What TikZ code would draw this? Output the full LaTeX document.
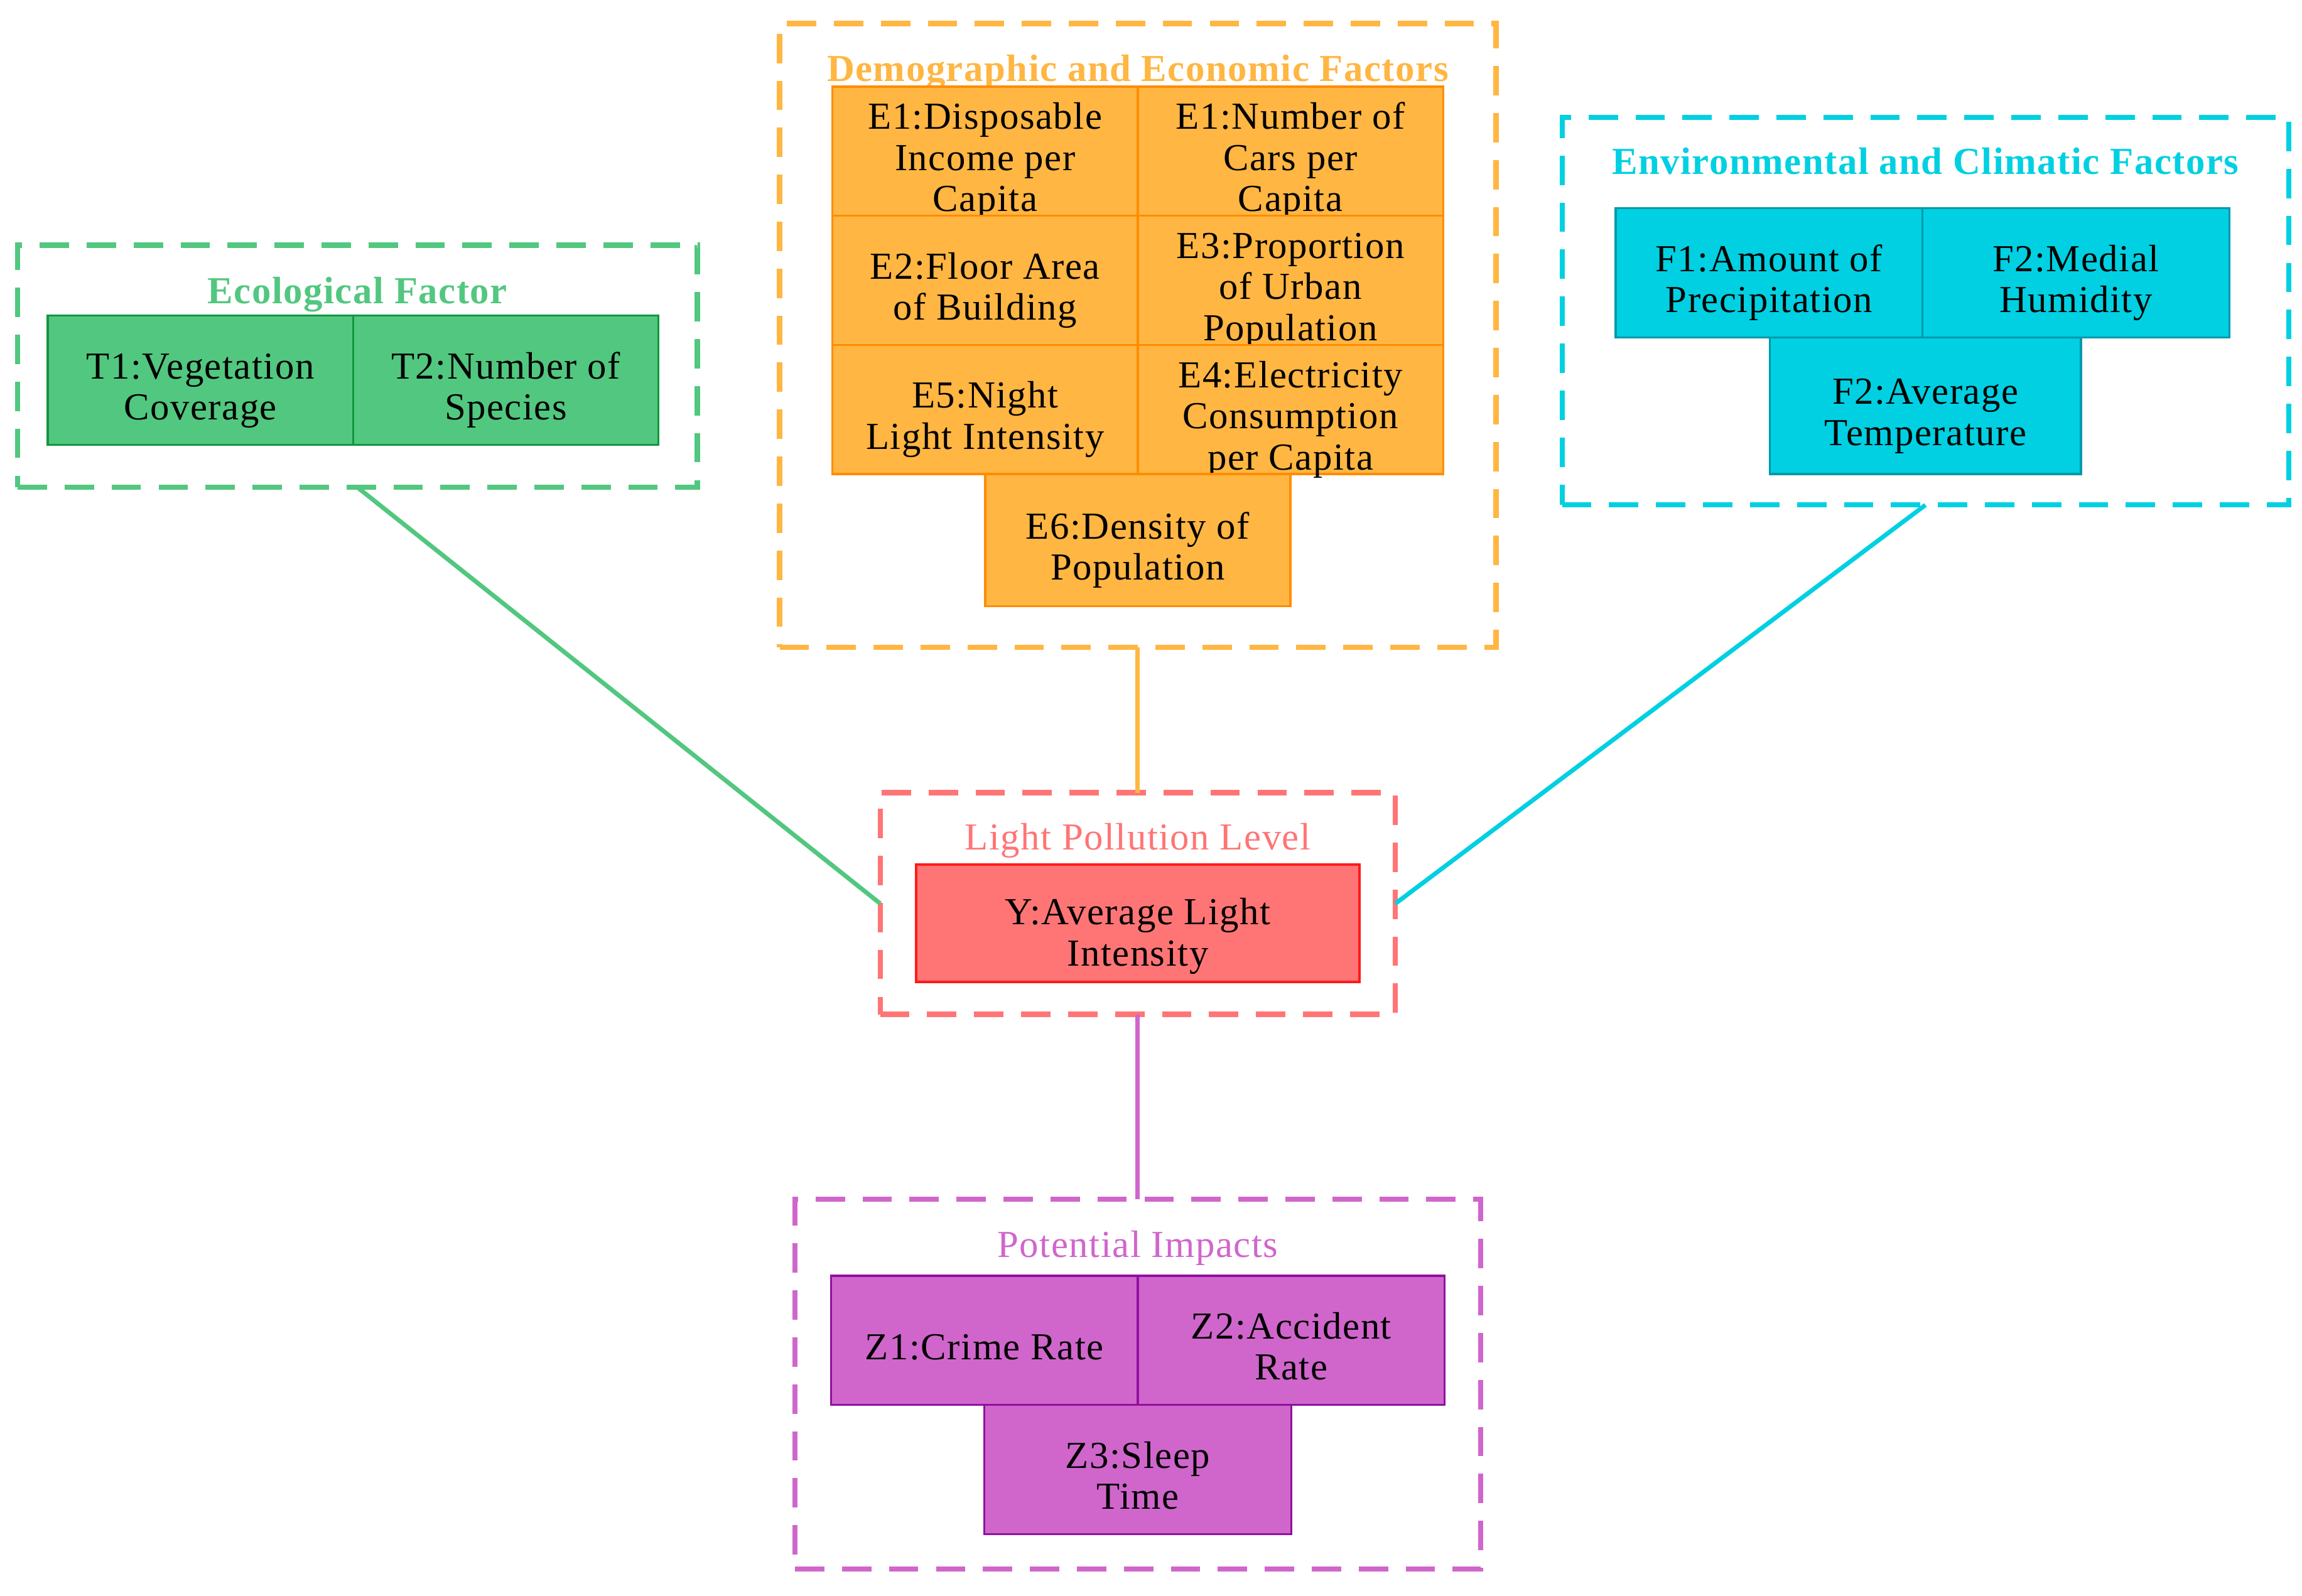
\documentclass[tikz,border=0pt]{standalone}
\usepackage{fontspec}
\setmainfont{Liberation Serif}[LetterSpace=2.5]
\definecolor{ecoC}{HTML}{52C77F}
\definecolor{ecoB}{HTML}{12963F}
\definecolor{demoC}{HTML}{FFB642}
\definecolor{demoB}{HTML}{FF8C00}
\definecolor{envC}{HTML}{00D0E2}
\definecolor{envB}{HTML}{0099AA}
\definecolor{lpC}{HTML}{FF7575}
\definecolor{lpB}{HTML}{FF1A1A}
\definecolor{impC}{HTML}{D066CC}
\definecolor{impB}{HTML}{9010A0}
\newcommand{\cellstrut}{\rule{0pt}{26pt}}
\newcommand{\ystrut}{\rule{0pt}{30pt}}
\begin{document}
\begin{tikzpicture}[x=1pt,y=-1pt,
  cluster/.style={draw, line width=3.5pt, dash pattern=on 20pt off 12pt, inner sep=0pt, outer sep=0pt},
  cell/.style={draw, line width=1.5pt, inner sep=0pt, outer sep=0pt, align=center, font=\fontsize{26}{28}\selectfont, text=black, text depth=0pt, minimum height=88pt, minimum width=208pt},
  ctitle/.style={anchor=base, inner sep=0pt, font=\fontsize{26}{28}\selectfont},
  link/.style={line width=3pt}]
\useasboundingbox (0,0) rectangle (1568,1087);

% clusters
\node[cluster, draw=ecoC, minimum width=463pt, minimum height=165pt] (eco) at (243.5,249.5) {};
\node[cluster, draw=demoC, minimum width=488pt, minimum height=425pt] (demo) at (775,228.5) {};
\node[cluster, draw=envC, minimum width=495pt, minimum height=264pt] (env) at (1311.5,212) {};
\node[cluster, draw=lpC, minimum width=351pt, minimum height=151pt] (lp) at (775,615.5) {};
\node[cluster, draw=impC, minimum width=467pt, minimum height=252pt] (imp) at (775,943) {};

% titles
\node[ctitle, text=ecoC] (ecoT) at (243.5,206.6) {\bfseries Ecological Factor};
\node[ctitle, text=demoC] (demoT) at (775,55.3) {\bfseries Demographic and Economic Factors};
\node[ctitle, text=envC] (envT) at (1311.5,118.5) {\bfseries Environmental and Climatic Factors};
\node[ctitle, text=lpC] (lpT) at (775,579) {Light Pollution Level};
\node[ctitle, text=impC] (impT) at (775,856.4) {Potential Impacts};

% ecological cells
\node[cell, fill=ecoC, draw=ecoB] (t1) at (136.5,259) {\cellstrut T1:Vegetation\\Coverage};
\node[cell, fill=ecoC, draw=ecoB] (t2) at (344.5,259) {\cellstrut T2:Number of\\Species};

% demographic cells
\node[cell, fill=demoC, draw=demoB] (e1a) at (671,103) {\cellstrut E1:Disposable\\Income per\\Capita};
\node[cell, fill=demoC, draw=demoB] (e1b) at (879,103) {\cellstrut E1:Number of\\Cars per\\Capita};
\node[cell, fill=demoC, draw=demoB] (e2) at (671,191) {\cellstrut E2:Floor Area\\of Building};
\node[cell, fill=demoC, draw=demoB] (e3) at (879,191) {\cellstrut E3:Proportion\\of Urban\\Population};
\node[cell, fill=demoC, draw=demoB] (e5) at (671,279) {\cellstrut E5:Night\\Light Intensity};
\node[cell, fill=demoC, draw=demoB] (e4) at (879,279) {\cellstrut E4:Electricity\\Consumption\\per Capita};
\node[cell, fill=demoC, draw=demoB, minimum height=90pt] (e6) at (775,368) {\cellstrut E6:Density of\\Population};

% environmental cells
\node[cell, fill=envC, draw=envB, minimum width=209pt] (f1) at (1205,185.8) {\cellstrut F1:Amount of\\Precipitation};
\node[cell, fill=envC, draw=envB, minimum width=209pt] (f2) at (1414,185.8) {\cellstrut F2:Medial\\Humidity};
\node[cell, fill=envC, draw=envB, minimum width=212pt, minimum height=93pt] (f3) at (1311.5,276.4) {\cellstrut F2:Average\\Temperature};

% light pollution cell
\node[cell, fill=lpC, draw=lpB, minimum width=302pt, minimum height=80pt] (y) at (775,629) {\ystrut Y:Average Light\\Intensity};

% impact cells
\node[cell, fill=impC, draw=impB, minimum width=209pt] (z1) at (670.5,913) {\cellstrut Z1:Crime Rate};
\node[cell, fill=impC, draw=impB, minimum width=209pt] (z2) at (879.5,913) {\cellstrut Z2:Accident\\Rate};
\node[cell, fill=impC, draw=impB, minimum width=209pt] (z3) at (775,1001) {\cellstrut Z3:Sleep\\Time};

% connectors
\draw[link, ecoC] (eco.south) -- (lp.west);
\draw[link, demoC] (demo.south) -- (lp.north);
\draw[link, envC] (env.south) -- (lp.east);
\draw[link, impC] (lp.south) -- (imp.north);
\end{tikzpicture}
\end{document}
